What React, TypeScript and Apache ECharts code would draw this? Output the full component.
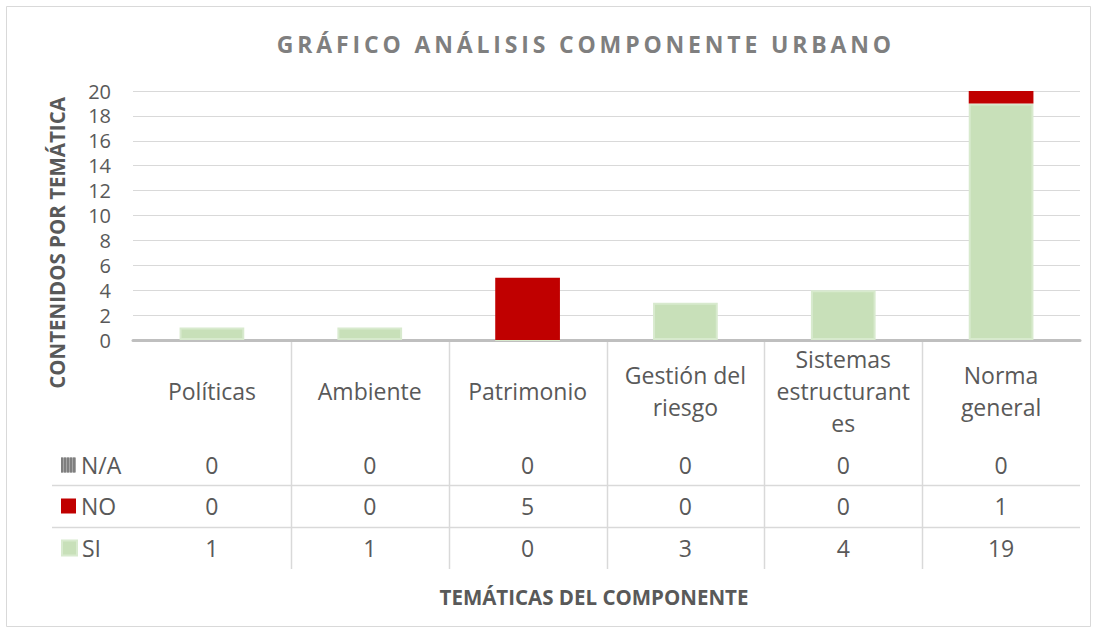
import React, { useEffect, useRef } from 'react';
import * as echarts from 'echarts';

const TITLE = 'GRÁFICO ANÁLISIS COMPONENTE URBANO';
const X_TITLE = 'TEMÁTICAS DEL COMPONENTE';
const Y_TITLE = 'CONTENIDOS POR TEMÁTICA';

const categories = ['Políticas', 'Ambiente', 'Patrimonio', 'Gestión del riesgo', 'Sistemas estructurantes', 'Norma general'];
const categoryLabels = ['Políticas', 'Ambiente', 'Patrimonio', 'Gestión del\nriesgo', 'Sistemas\nestructurant\nes', 'Norma\ngeneral'];

const naValues = [0, 0, 0, 0, 0, 0];
const noValues = [0, 0, 5, 0, 0, 1];
const siValues = [1, 1, 0, 3, 4, 19];

const Y_MIN = 0;
const Y_MAX = 20;
const Y_INTERVAL = 2;

const FONT = '"Open Sans", "Noto Sans", sans-serif';
const TEXT = '#595959';
const GRIDC = '#d9d9d9';

// layout
const W = 1097;
const H = 633;
const GL = 133;
const GR = 1080;
const GT = 91;
const GB = 340;

export default function App() {
  const ref = useRef<HTMLDivElement>(null);
  useEffect(() => {
    if (!ref.current) return;
    const chart = echarts.init(ref.current, null, { renderer: 'svg' });

    const rows = [
      { name: 'N/A', values: naValues, center: 465 },
      { name: 'NO', values: noValues, center: 506 },
      { name: 'SI', values: siValues, center: 548 },
    ];

    const bandW = (GR - GL) / categories.length;
    const graphics: any[] = [
      {
        type: 'rect',
        shape: { x: 6.5, y: 6.5, width: 1084, height: 620 },
        style: { fill: 'none', stroke: GRIDC, lineWidth: 1 },
        silent: true,
      },
      {
        type: 'text',
        x: 584,
        y: 44,
        style: {
          text: TITLE.split('').join('\u2006'),
          fill: '#7f7f7f',
          font: `bold 23px ${FONT}`,
          textAlign: 'center',
          textVerticalAlign: 'middle',
        },
      },
      {
        type: 'text',
        x: 594,
        y: 597,
        style: {
          text: X_TITLE,
          fill: TEXT,
          font: `bold 20.5px ${FONT}`,
          textAlign: 'center',
          textVerticalAlign: 'middle',
        },
      },
      {
        type: 'text',
        x: 57,
        y: 243,
        rotation: Math.PI / 2,
        style: {
          text: Y_TITLE,
          fill: TEXT,
          font: `bold 20.5px ${FONT}`,
          textAlign: 'center',
          textVerticalAlign: 'middle',
        },
      },
    ];
    for (let i = 1; i < categories.length; i++) {
      const x = Math.round(GL + i * bandW) + 0.5;
      graphics.push({
        type: 'line',
        shape: { x1: x, y1: GB + 2, x2: x, y2: 569 },
        style: { stroke: GRIDC, lineWidth: 1.5 },
        silent: true,
      });
    }
    [485.5, 527.5].forEach((y) => {
      graphics.push({
        type: 'line',
        shape: { x1: 52, y1: y, x2: GR, y2: y },
        style: { stroke: GRIDC, lineWidth: 1.5 },
        silent: true,
      });
    });

    const xAxes: any[] = [
      {
        type: 'category',
        gridIndex: 0,
        position: 'bottom',
        data: categories,
        axisLine: { show: true, onZero: false, lineStyle: { color: '#bfbfbf', width: 3 } },
        axisTick: { show: false },
        axisLabel: {
          interval: 0,
          formatter: (_v: string, i: number) => categoryLabels[i],
          fontFamily: FONT,
          fontSize: 23,
          lineHeight: 32,
          color: TEXT,
          margin: 51,
          verticalAlign: 'middle',
        },
      },
    ];
    rows.forEach((r) => {
      xAxes.push({
        type: 'category',
        gridIndex: 0,
        position: 'bottom',
        offset: r.center - GB,
        data: categories,
        axisLine: { show: false },
        axisTick: { show: false },
        axisLabel: {
          interval: 0,
          formatter: (_v: string, i: number) => String(r.values[i]),
          fontFamily: FONT,
          fontSize: 23,
          color: TEXT,
          margin: 0,
          verticalAlign: 'middle',
        },
      });
    });

    const legends = rows.map((r) => ({
      data: [r.name],
      orient: 'horizontal',
      left: 61,
      top: r.center - 12,
      padding: 0,
      itemWidth: 15,
      itemHeight: 15,
      itemGap: 0,
      icon: 'rect',
      selectedMode: false,
      textStyle: { fontFamily: FONT, fontSize: 23, color: TEXT, lineHeight: 24, padding: [0, 0, 0, 0] },
    }));

    const option: any = {
      animation: false,
      backgroundColor: '#ffffff',
      grid: { left: GL, right: W - GR, top: GT, bottom: H - GB, containLabel: false },
      legend: legends,
      xAxis: xAxes,
      yAxis: {
        type: 'value',
        min: Y_MIN,
        max: Y_MAX,
        interval: Y_INTERVAL,
        axisLine: { show: false },
        axisTick: { show: false },
        splitLine: { lineStyle: { color: GRIDC, width: 1 } },
        axisLabel: { fontFamily: FONT, fontSize: 20, color: TEXT, margin: 22 },
      },
      series: [
        {
          name: 'SI',
          type: 'bar',
          stack: 'total',
          barWidth: '41%',
          xAxisIndex: 0,
          data: siValues,
          itemStyle: { color: '#c8e0b9', borderColor: '#d8eace', borderWidth: 2 },
        },
        {
          name: 'NO',
          type: 'bar',
          stack: 'total',
          barWidth: '41%',
          xAxisIndex: 0,
          data: noValues,
          itemStyle: { color: '#c00000', borderWidth: 0 },
        },
        {
          name: 'N/A',
          type: 'bar',
          stack: 'total',
          barWidth: '41%',
          xAxisIndex: 0,
          data: naValues,
          itemStyle: {
            color: '#a6a6a6',
            borderWidth: 0,
            decal: {
              symbol: 'rect',
              symbolSize: 1,
              dashArrayX: [2, 1],
              dashArrayY: [10, 0],
              color: '#7f7f7f',
            },
          },
        },
      ],
      graphic: graphics,
    };
    chart.setOption(option);
    return () => chart.dispose();
  }, []);

  return (
    <div
      ref={ref}
      style={{ position: 'absolute', left: 0, top: 0, width: W, height: H, background: '#fff' }}
    />
  );
}
